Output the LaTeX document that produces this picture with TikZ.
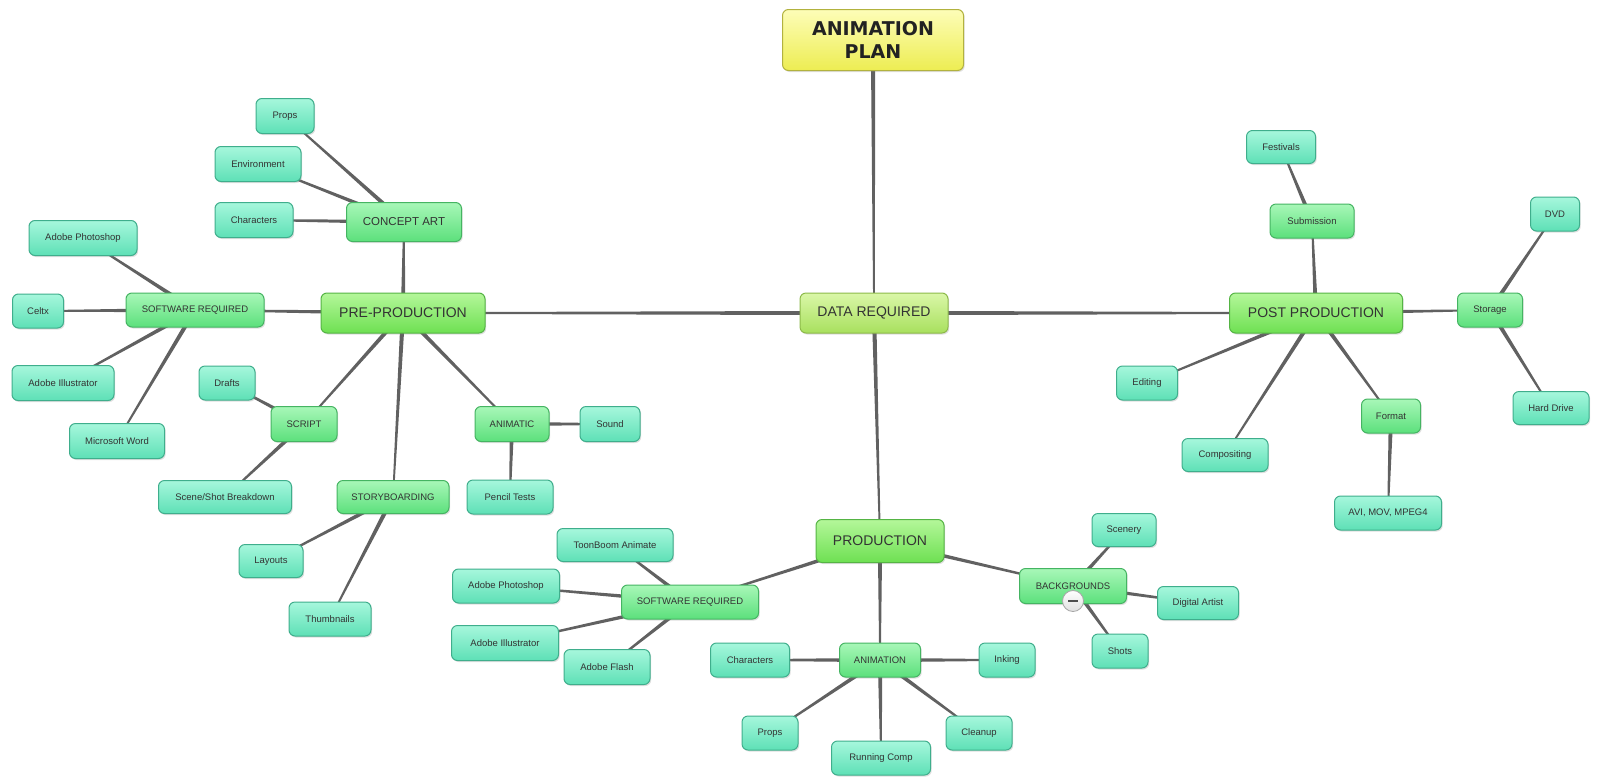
\documentclass[tikz,border=0pt]{standalone}
\usepackage{fontspec}
\setmainfont{Liberation Sans}
\newfontfamily\titlefont{DejaVu Sans}
\usetikzlibrary{calc,shadows}
\pgfdeclarelayer{bgwhite}
\pgfdeclarelayer{background}
\pgfsetlayers{bgwhite,background,main}
\definecolor{txt}{HTML}{333333}
\definecolor{linkc}{HTML}{616161}
\definecolor{leafdraw}{HTML}{3FAE8C}
\definecolor{leaftop}{HTML}{A6F7DC}
\definecolor{leafbot}{HTML}{5EE0B6}
\definecolor{subdraw}{HTML}{45B462}
\definecolor{subtop}{HTML}{A8F7B8}
\definecolor{subbot}{HTML}{5CE07C}
\definecolor{maindraw}{HTML}{55B444}
\definecolor{maintop}{HTML}{B4F79A}
\definecolor{mainbot}{HTML}{6EE052}
\definecolor{datadraw}{HTML}{8DBA4A}
\definecolor{datatop}{HTML}{DAF7A8}
\definecolor{databot}{HTML}{A8E05E}
\definecolor{titledraw}{HTML}{B2B23E}
\definecolor{titletop}{HTML}{FDFDB8}
\definecolor{titlebot}{HTML}{EDED52}
\definecolor{dark}{HTML}{222222}
\definecolor{mcirc}{HTML}{E0E0E0}
\tikzset{
  box/.style={rounded corners=6pt, line width=1pt, align=center, text=txt, inner sep=2pt,
    drop shadow={opacity=0.25, shadow xshift=1.2pt, shadow yshift=-1.5pt}},
  leaf/.style={box, draw=leafdraw, top color=leaftop, bottom color=leafbot, font=\fontsize{9.5}{11}\selectfont},
  sub/.style={box, draw=subdraw, top color=subtop, bottom color=subbot, font=\fontsize{9.5}{11}\selectfont},
  mainn/.style={box, draw=maindraw, top color=maintop, bottom color=mainbot, font=\fontsize{14}{16}\selectfont},
  datan/.style={box, draw=datadraw, top color=datatop, bottom color=databot, font=\fontsize{14}{16}\selectfont},
  titlen/.style={box, draw=titledraw, top color=titletop, bottom color=titlebot, font=\titlefont\bfseries\fontsize{19}{23}\selectfont, text=dark},
  sz/.style 2 args={minimum width=#1pt, minimum height=#2pt},
  taper/.style={to path={
    ($(\tikztostart)!2.2pt!90:(\tikztotarget)$) --
    ($(\tikztotarget)!0.8pt!-90:(\tikztostart)$) --
    ($(\tikztotarget)!0.8pt!90:(\tikztostart)$) --
    ($(\tikztostart)!2.2pt!-90:(\tikztotarget)$) -- cycle}},
  link/.style={fill=linkc, draw=none},
}
\begin{document}
\begin{tikzpicture}[x=1pt,y=-1pt]
\begin{pgfonlayer}{bgwhite}
\fill[white] (0,0) rectangle (1600,782);
\end{pgfonlayer}
\useasboundingbox (0,0) rectangle (1600,782);
% central
\node[titlen, sz={181}{61}] (title) at (873,40) {ANIMATION\\PLAN};
\node[datan, sz={148}{40}] (data) at (874,313) {DATA REQUIRED};
\node[mainn, sz={164}{40}] (pre) at (403,313) {PRE-PRODUCTION};
\node[mainn, sz={173}{40}] (post) at (1316,313) {POST PRODUCTION};
\node[mainn, sz={128}{43}] (prod) at (880,541) {PRODUCTION};
% pre-production
\node[sub, sz={115}{39}, font=\fontsize{11.5}{13}\selectfont] (concept) at (404,222) {CONCEPT ART};
\node[sub, sz={138}{34}] (sw1) at (195,310) {SOFTWARE REQUIRED};
\node[sub, sz={66}{35}] (script) at (304,424) {SCRIPT};
\node[sub, sz={112}{33}] (story) at (393,497) {STORYBOARDING};
\node[sub, sz={74}{35}] (animatic) at (512,424) {ANIMATIC};
\node[leaf, sz={58}{35}] (props1) at (285,116) {Props};
\node[leaf, sz={86}{35}] (env) at (258,164) {Environment};
\node[leaf, sz={78}{35}] (char1) at (254,220) {Characters};
\node[leaf, sz={108}{35}] (ps1) at (83,238) {Adobe Photoshop};
\node[leaf, sz={51}{34}] (celtx) at (38,311) {Celtx};
\node[leaf, sz={102}{35}] (ai1) at (63,383) {Adobe Illustrator};
\node[leaf, sz={95}{35}] (word) at (117,441) {Microsoft Word};
\node[leaf, sz={56}{34}] (drafts) at (227,383) {Drafts};
\node[leaf, sz={133}{33}] (scene) at (225,497) {Scene/Shot Breakdown};
\node[leaf, sz={64}{33}] (layouts) at (271,561) {Layouts};
\node[leaf, sz={82}{34}] (thumbs) at (330,619) {Thumbnails};
\node[leaf, sz={60}{35}] (sound) at (610,424) {Sound};
\node[leaf, sz={86}{34}] (pencil) at (510,497) {Pencil Tests};
% production
\node[sub, sz={137}{34}] (sw2) at (690,602) {SOFTWARE REQUIRED};
\node[leaf, sz={116}{33}] (toon) at (615,545) {ToonBoom Animate};
\node[leaf, sz={107}{34}] (ps2) at (506,586) {Adobe Photoshop};
\node[leaf, sz={107}{35}] (ai2) at (505,643) {Adobe Illustrator};
\node[leaf, sz={86}{35}] (flash) at (607,667) {Adobe Flash};
\node[sub, sz={81}{34}] (anim) at (880,660) {ANIMATION};
\node[leaf, sz={79}{34}] (char2) at (750,660) {Characters};
\node[leaf, sz={56}{34}] (inking) at (1007,660) {Inking};
\node[leaf, sz={56}{34}] (props2) at (770,733) {Props};
\node[leaf, sz={99}{34}] (running) at (881,758) {Running Comp};
\node[leaf, sz={66}{34}] (cleanup) at (979,733) {Cleanup};
\node[sub, sz={107}{35}] (bg) at (1073,586) {BACKGROUNDS};
\node[leaf, sz={64}{33}] (scenery) at (1124,530) {Scenery};
\node[leaf, sz={81}{33}] (digital) at (1198,603) {Digital Artist};
\node[leaf, sz={56}{34}] (shots) at (1120,651) {Shots};
% collapse button on BACKGROUNDS
\node[circle, minimum size=21pt, inner sep=0pt, draw=gray!70, line width=0.8pt,
      top color=white, bottom color=mcirc] (minus) at (1073,601) {};
\fill[dark!80] ($(minus.center)+(-5,-1.2)$) rectangle ($(minus.center)+(5,1.2)$);
% post production
\node[sub, sz={84}{34}] (submission) at (1312,221) {Submission};
\node[leaf, sz={69}{33}] (festivals) at (1281,147) {Festivals};
\node[leaf, sz={61}{34}] (editing) at (1147,383) {Editing};
\node[leaf, sz={86}{33}] (compositing) at (1225,455) {Compositing};
\node[sub, sz={59}{34}] (format) at (1391,416) {Format};
\node[leaf, sz={107}{34}] (avi) at (1388,513) {AVI, MOV, MPEG4};
\node[sub, sz={65}{34}] (storage) at (1490,310) {Storage};
\node[leaf, sz={49}{34}] (dvd) at (1555,214) {DVD};
\node[leaf, sz={76}{33}] (hdd) at (1551,408) {Hard Drive};
% connectors
\begin{pgfonlayer}{background}
\foreach \a/\b in {title/data, data/pre, data/post, data/prod,
  pre/concept, pre/sw1, pre/script, pre/story, pre/animatic,
  concept/props1, concept/env, concept/char1,
  sw1/ps1, sw1/celtx, sw1/ai1, sw1/word,
  script/drafts, script/scene, story/layouts, story/thumbs,
  animatic/sound, animatic/pencil,
  prod/sw2, prod/anim, prod/bg,
  sw2/toon, sw2/ps2, sw2/ai2, sw2/flash,
  anim/char2, anim/inking, anim/props2, anim/running, anim/cleanup,
  bg/scenery, bg/digital, bg/shots,
  post/submission, post/editing, post/compositing, post/format, post/storage,
  submission/festivals, storage/dvd, storage/hdd, format/avi}
  \fill[link] (\a.center) to[taper] (\b.center);
\end{pgfonlayer}
\end{tikzpicture}
\end{document}
